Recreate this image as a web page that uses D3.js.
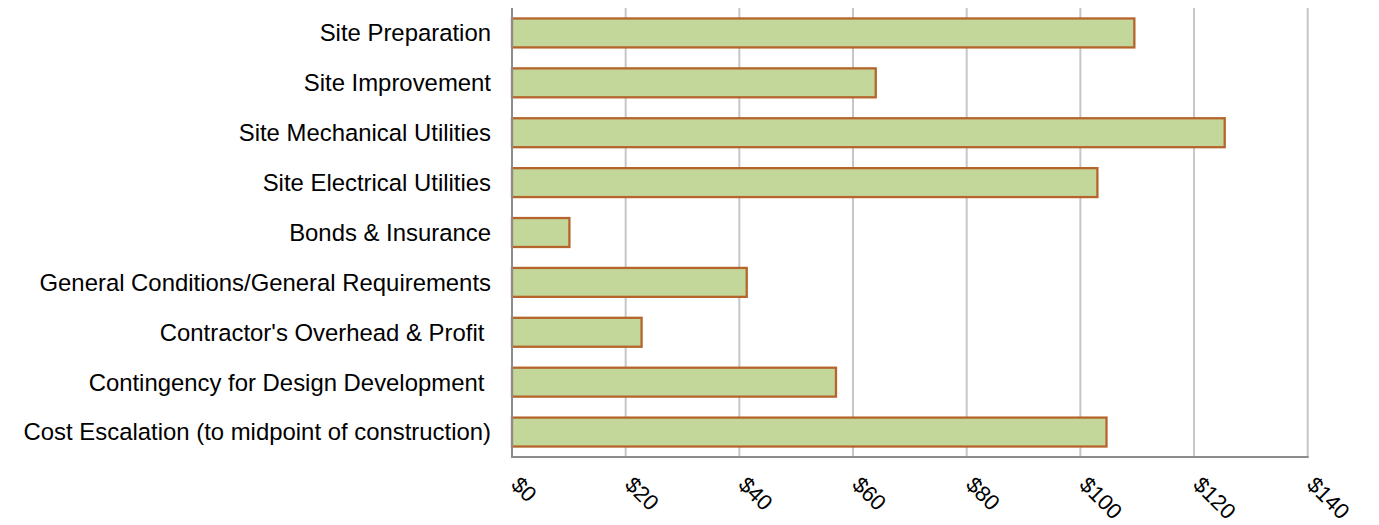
<!DOCTYPE html>
<html>
<head>
<meta charset="utf-8">
<script src="https://cdn.jsdelivr.net/npm/d3@7"></script>
<style>
  html, body { margin: 0; padding: 0; background: #fff; }
  svg text { font-family: "Liberation Sans", Arial, sans-serif; white-space: pre; }
</style>
</head>
<body>
<svg id="chart" width="1379" height="525"></svg>
<script>
// Cost categories (top to bottom) and their amounts
const categories = [
  "Site Preparation",
  "Site Improvement",
  "Site Mechanical Utilities",
  "Site Electrical Utilities",
  "Bonds & Insurance",
  "General Conditions/General Requirements",
  "Contractor's Overhead & Profit ",
  "Contingency for Design Development ",
  "Cost Escalation (to midpoint of construction)"
];
const values = [109.5, 64.0, 125.4, 103.0, 10.1, 41.3, 22.8, 57.0, 104.6];
const tickValues = [0, 20, 40, 60, 80, 100, 120, 140];

const svg = d3.select("#chart");
const margin = { top: 8, right: 72, bottom: 68, left: 512 };
const W = 1379, H = 525;

const x = d3.scaleLinear().domain([0, 140]).range([margin.left, W - margin.right + 0.7]);
const y = d3.scaleBand().domain(categories).range([margin.top, H - margin.bottom]).paddingInner(0.42).paddingOuter(0.21);

// vertical gridlines
svg.append("g").selectAll("line").data(tickValues.slice(1)).join("line")
  .attr("x1", d => x(d)).attr("x2", d => x(d))
  .attr("y1", margin.top).attr("y2", H - margin.bottom)
  .attr("stroke", "#c6c6c6").attr("stroke-width", 2);

// bars
svg.append("g").selectAll("rect").data(categories).join("rect")
  .attr("x", x(0))
  .attr("y", d => y(d))
  .attr("width", (d, i) => x(values[i]) - x(0))
  .attr("height", y.bandwidth())
  .attr("fill", "#c4d79b")
  .attr("stroke", "#b5652b")
  .attr("stroke-width", 2.3);

// axis lines
svg.append("line")
  .attr("x1", x(0)).attr("x2", x(0))
  .attr("y1", margin.top).attr("y2", H - margin.bottom + 1)
  .attr("stroke", "#8c8c8c").attr("stroke-width", 2);
svg.append("line")
  .attr("x1", x(0) - 1).attr("x2", x(140) + 1)
  .attr("y1", H - margin.bottom).attr("y2", H - margin.bottom)
  .attr("stroke", "#8c8c8c").attr("stroke-width", 2);

// category labels
svg.append("g").selectAll("text").data(categories).join("text")
  .attr("x", 491)
  .attr("y", d => y(d) + y.bandwidth() / 2)
  .attr("dy", "0.35em")
  .attr("text-anchor", "end")
  .attr("font-size", 23.9)
  .attr("fill", "#000")
  .text(d => d);

// rotated tick labels
svg.append("g").selectAll("text").data(tickValues).join("text")
  .attr("transform", d => `translate(${x(d) - 2},${H - margin.bottom + 29}) rotate(45)`)
  .attr("font-size", 22)
  .attr("fill", "#000")
  .text(d => "$" + d);
</script>
</body>
</html>
